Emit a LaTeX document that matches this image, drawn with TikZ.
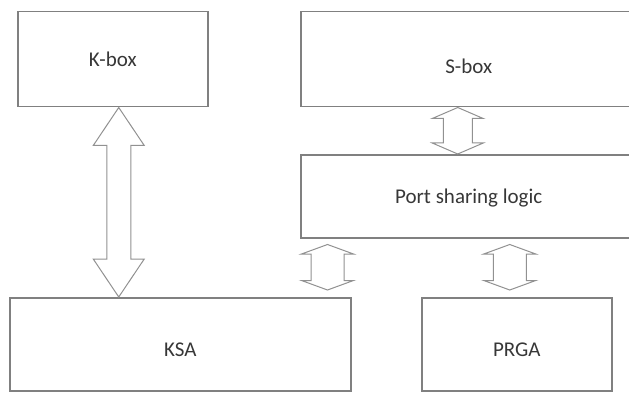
\documentclass[tikz,border=0pt]{standalone}
\usepackage{fontspec}
\setmainfont{Carlito}
\usepackage{tikz}
\usepackage{xcolor}
\usetikzlibrary{calc}
\definecolor{boxgray}{RGB}{128, 128, 128}
\definecolor{arrgray}{RGB}{145, 145, 145}
\definecolor{txtgray}{RGB}{55, 55, 55}
\tikzset{
    blockbox/.style={rectangle, draw=boxgray, line width=1.5pt, anchor=north west, inner sep=0pt, font=\fontsize{21}{25}\selectfont, text=txtgray},
    blockarrow/.style={draw=arrgray, line width=1pt, fill=white, line join=miter}
}
% hollow two-headed arrow: top end, bottom end, head half width, shaft half width, head length
\newcommand{\dblblock}[5]{%
    \draw[blockarrow] (#1) -- ($(#1)+(#3,#5)$) -- ($(#1)+(#4,#5)$) -- ($(#2)+(#4,-#5)$)
        -- ($(#2)+(#3,-#5)$) -- (#2) -- ($(#2)+(-#3,-#5)$) -- ($(#2)+(-#4,-#5)$)
        -- ($(#1)+(-#4,#5)$) -- ($(#1)+(-#3,#5)$) -- cycle;}

\begin{document}
\begin{tikzpicture}[x=1pt, y=-1pt]
    \useasboundingbox (0,0) rectangle (629,393);
    \clip (0,0) rectangle (629,393);

    \node[blockbox, minimum width=190pt, minimum height=95pt] (kbox) at (17,11) {K-box};
    \node[blockbox, minimum width=336pt, minimum height=95pt, text height=28pt] (sbox) at (300,11) {S-box};
    \node[blockbox, minimum width=336pt, minimum height=83pt, text height=18pt] (psl) at (300,154) {Port sharing logic};
    \node[blockbox, minimum width=341pt, minimum height=93pt, text height=24pt] (ksa) at (9,297) {KSA};
    \node[blockbox, minimum width=190pt, minimum height=93pt, text height=24pt] (prga) at (421,297) {PRGA};

    % K-box <-> KSA
    \path ([xshift=6pt]kbox.south) coordinate (ka) (ka |- ksa.north) coordinate (kb);
    \dblblock{ka}{kb}{25.5}{12}{38}

    % S-box <-> port sharing logic
    \path ([xshift=-11pt]sbox.south) coordinate (sa) (sa |- psl.north) coordinate (sb);
    \dblblock{sa}{sb}{25.5}{14.5}{11}

    % port sharing logic <-> KSA / PRGA
    \path ([xshift=-24pt,yshift=7pt]ksa.north east) coordinate (lb) (lb |- psl.south) ++(0,6) coordinate (la);
    \dblblock{la}{lb}{26}{16.5}{9.5}
    \path ([xshift=-7pt,yshift=7pt]prga.north) coordinate (rb) (rb |- psl.south) ++(0,6) coordinate (ra);
    \dblblock{ra}{rb}{26}{16.5}{9.5}
\end{tikzpicture}
\end{document}
